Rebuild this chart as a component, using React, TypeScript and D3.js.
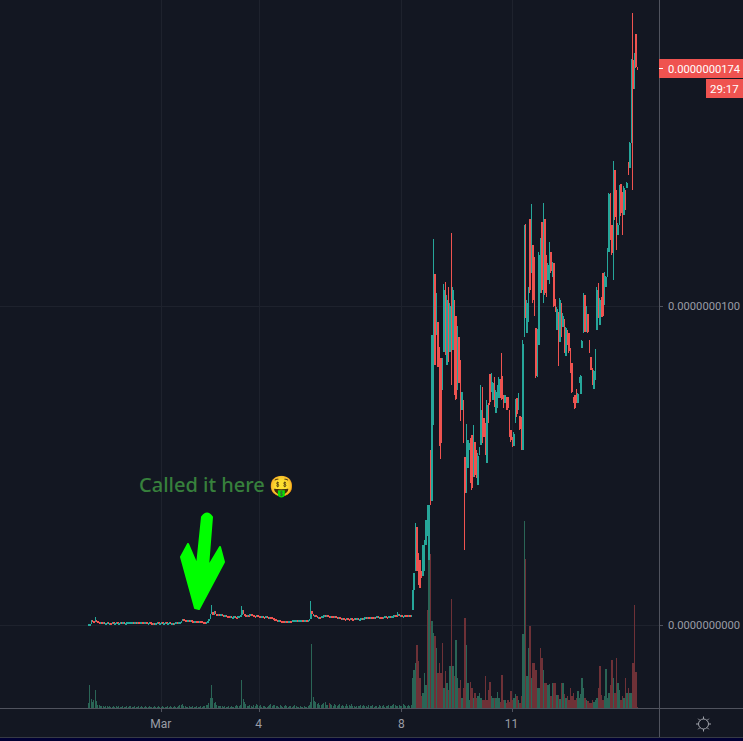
import React from 'react';
import * as d3 from 'd3';

// prices are in units of 0.0000000001
const quietCloses = [
  0.3, 0.4, 1.6, 1.2, 1.0, 1.7, 1.1, 0.9, 0.8, 0.8, 0.7, 0.8, 0.7, 0.7, 0.8, 0.7, 0.7, 0.6, 0.8, 0.7,
  0.7, 0.8, 0.7, 0.7, 0.8, 0.7, 0.9, 0.7, 0.7, 0.8, 0.8, 0.9, 1.0, 1.0, 0.9, 1.0, 0.8, 0.8, 0.7, 0.8,
  0.8, 0.7, 0.8, 0.8, 0.7, 0.7, 0.8, 0.7, 0.6, 0.7, 0.6, 0.7, 0.8, 0.7, 0.7, 0.8, 0.7, 0.7, 0.8, 0.7,
  0.7, 0.8, 0.7, 0.7, 0.6, 0.7, 0.8, 0.7, 0.9, 1.0, 1.4, 2.0, 1.7, 1.6, 1.5, 1.6, 1.4, 1.5, 1.4, 1.3,
  1.3, 1.4, 1.3, 1.2, 1.3, 1.2, 1.0, 0.9, 0.7, 0.8, 1.2, 1.8, 3.4, 4.0, 3.2, 4.3, 3.4, 3.2, 3.3, 3.1,
  3.3, 3.2, 3.0, 3.1, 2.9, 2.8, 2.6, 2.7, 2.5, 2.6, 2.7, 2.6, 2.5, 2.7, 2.8, 3.0, 4.6, 3.6, 3.2, 3.0,
  3.1, 3.0, 3.4, 3.3, 3.1, 2.9, 2.8, 3.0, 2.9, 2.8, 2.7, 2.9, 2.6, 2.5, 2.8, 2.5, 2.3, 2.6, 2.4, 2.1,
  2.0, 1.9, 1.7, 1.5, 1.6, 1.4, 1.3, 1.2, 1.1, 1.2, 1.0, 1.3, 1.4, 1.3, 1.5, 1.5, 1.6, 1.6, 1.5, 1.6,
  1.6, 1.7, 1.6, 1.6, 1.7, 1.6, 1.7, 2.0, 4.4, 3.6, 3.0, 3.2, 2.7, 2.5, 2.6, 2.4, 2.7, 2.9, 3.1, 2.8,
  3.0, 2.8, 2.6, 2.9, 2.7, 2.5, 2.7, 2.4, 2.2, 2.4, 2.1, 1.9, 2.2, 2.0, 1.8, 2.1, 2.0, 1.9, 2.1, 2.0,
  1.9, 2.2, 2.0, 2.1, 1.9, 2.0, 2.3, 2.1, 2.2, 2.4, 2.3, 2.5, 2.4, 2.6, 2.5, 2.4, 2.6, 2.5, 2.7, 2.5,
  2.6, 2.5, 2.4, 2.6, 2.7, 2.6, 2.5, 2.7, 2.6, 2.8, 2.9, 3.2, 3.0, 2.7, 3.5, 2.9, 3.2, 2.8, 2.9, 3.1,
  3.0, 2.9, 3.1, 3.0, 3.2,
];
// the few quiet bars that have a visible upper wick
const quietWickBars = [5, 93, 116, 168, 234];
const quietWickHighs = [2.6, 6.3, 5.8, 7.6, 4.0];

// rally part: one row per bar, open / high / low / close
const rallyBars: number[][] = [
  [4.7, 11, 4.7, 11], [11, 16.3, 11, 16.3], [17, 32, 17, 31], [30.7, 30.7, 17, 17], [22.6, 22.6, 12.5, 12.5],
  [20.4, 20.4, 11.6, 11.6], [17, 17, 14.7, 14.7], [15.4, 25, 15.4, 25], [17, 26.6, 17, 26.6], [25, 33, 25, 33],
  [28, 37.6, 28, 37.6], [20.4, 37.6, 20.4, 37.6], [54.9, 54.9, 37.6, 37.6], [39, 91, 39, 91], [62.7, 121, 62.7, 92],
  [110, 110, 81.5, 81.5], [91, 104, 91, 104], [95, 95, 81, 81], [87, 87, 56, 58], [83.7, 83.7, 52, 57], [73.7, 83.7, 73.7, 83.7],
  [85.6, 107, 85.6, 105], [107.5, 107.5, 84.6, 86], [81.5, 103.4, 81.5, 102], [106, 106, 82.4, 84], [85.6, 101, 85.6, 100],
  [109.4, 123, 75.2, 75.2], [86.2, 106, 86.2, 105], [102, 102, 72, 73], [97, 97, 70.5, 71], [73.7, 93.7, 73.7, 93],
  [90.3, 90.3, 75.9, 76], [83, 83, 64, 65], [67.4, 73, 67.4, 73], [70.5, 70.5, 57, 57], [52.7, 52.7, 23.5, 41.4],
  [41.4, 63, 41.4, 61], [49.2, 58, 49.2, 58], [54.9, 57, 54.9, 57], [58.6, 58.6, 44.5, 45], [59.6, 59.6, 42.3, 43],
  [46.4, 62.7, 46.4, 60], [57.4, 57.4, 46.4, 47], [54.9, 54.9, 46, 46], [43.9, 53.9, 43.9, 53], [53.3, 55.8, 53.3, 55.8],
  [56.4, 75.2, 56.4, 67.4], [74.6, 74.6, 57, 58], [64.9, 64.9, 58.9, 59], [63.3, 63.3, 53.3, 54], [50.8, 70.5, 50.8, 69],
  [69.6, 69.6, 63.3, 64], [78.7, 78.7, 69, 70], [73, 79, 73, 79], [70.5, 76.2, 70.5, 76], [77.7, 77.7, 68.3, 69],
  [66.5, 73.7, 66.5, 73], [68, 75.2, 68, 75], [71.2, 77.7, 71.2, 77], [77.1, 77.1, 71.2, 72], [78, 85.3, 70.5, 71],
  [72.1, 72.1, 68, 68], [69.6, 72.1, 69.6, 72], [71.5, 71.5, 67.4, 68], [71.5, 71.5, 67.4, 68], [67.4, 67.4, 58.9, 59],
  [61.1, 61.1, 57.4, 58], [58.9, 58.9, 55.8, 56], [56.1, 60.5, 56.1, 60], [63.3, 70.8, 63.3, 70], [71.2, 71.2, 65.2, 66],
  [67.4, 72.7, 67.4, 72], [65.5, 65.5, 61.1, 61.5], [65.2, 65.2, 54.9, 56], [54.9, 89.3, 54.9, 88],
  [90.3, 125.4, 90.3, 124], [125.7, 125.7, 96.2, 97], [91.5, 101.9, 91.5, 101], [95, 106, 95, 105], [127.3, 127.3, 104, 105],
  [110.3, 132, 110.3, 130], [119, 119, 101, 102], [115.4, 115.4, 97, 98], [93, 93, 77.4, 78], [77.7, 92.8, 77.7, 92],
  [87.8, 116.9, 87.8, 116], [104, 121.3, 104, 120], [126.3, 126.3, 104, 105], [101, 132.3, 101, 131], [127.3, 127.3, 103.4, 104],
  [116, 116, 102.8, 103], [108, 113.5, 108, 113], [107, 120, 107, 119], [116.9, 116.9, 110.3, 111], [109, 113.8, 109, 113],
  [113.5, 113.5, 99.7, 100], [102.2, 102.2, 98.1, 98.5], [92.5, 99.7, 92.5, 99], [98.1, 98.1, 81.2, 82], [88.7, 102.5, 88.7, 102],
  [100.9, 100.9, 90.3, 91], [93.4, 97.8, 93.4, 97], [95.9, 95.9, 85.3, 86], [84.3, 93.4, 84.3, 93],
  [92.5, 92.5, 87.8, 88], [91.5, 91.5, 85.3, 86], [86.8, 86.8, 79, 79.5],
  [82.1, 82.1, 72.7, 73], [71.5, 71.5, 69.6, 70], [72.1, 72.1, 67.7, 68], [74, 74, 69.6, 70], [69.6, 72.7, 69.6, 72.5],
  [75.9, 77.7, 75.9, 77.5], [72.4, 78.4, 72.4, 78], [86.8, 89.3, 86.8, 89], [91.5, 104, 91.5, 103],
  [103.4, 103.4, 91.8, 92], [91.8, 100, 91.8, 99], [97.5, 97.5, 91.5, 92], [89.3, 89.3, 85.3, 85.5],
  [84, 84, 79.9, 80], [80.6, 80.6, 75.2, 75.5], [74, 79.9, 74, 79.5], [76.8, 86.5, 76.8, 86],
  [92.5, 106, 92.5, 105], [107.2, 107.2, 96.2, 97], [94, 102.5, 94, 102],
  [102.8, 102.8, 96.5, 97], [110.3, 110.3, 96.5, 97], [100.3, 110.7, 100.3, 110],
  [106, 109.4, 106, 109], [109, 118.2, 109, 118], [116.9, 135.4, 116.9, 135], [135.4, 135.4, 120.7, 121], [125.4, 125.4, 116, 116.5],
  [108, 145.5, 108, 136], [142.6, 142.6, 127, 128], [136.4, 136.4, 117.6, 118], [122.3, 126, 122.3, 125.5], [125.4, 138, 125.4, 137],
  [138.2, 138.2, 128.2, 129], [135.7, 135.7, 122.3, 123], [128.5, 137.6, 128.5, 137], [136.4, 136.4, 130, 130.5], [137, 138.9, 137, 138.5],
  [145.1, 145.1, 141, 141.5], [143.3, 151.4, 143.3, 151], [151, 177.4, 151, 177], [177, 192, 136.4, 168], [168, 179.3, 168, 179],
  [185.3, 185.3, 174.6, 175], [174.6, 174.8, 174, 174],
];

const quietVolumes = [
  5, 23, 9, 6, 8, 18, 7, 3, 3, 2, 2, 2, 1, 2, 2, 1, 2, 1, 1, 2, 1, 2, 1, 2, 1, 1, 2, 1, 1, 2, 1, 2, 2, 1, 1, 2,
  1, 1, 2, 1, 2, 1, 1, 2, 1, 1, 2, 1, 1, 1, 2, 1, 1, 2, 1, 1, 2, 1, 1, 1, 2, 1, 2, 1, 1, 2, 1, 1, 2, 3, 3, 4,
  2, 2, 1, 1, 2, 1, 1, 2, 1, 1, 2, 1, 1, 2, 1, 2, 2, 3, 3, 5, 10, 23, 10, 5, 6, 3, 2, 2, 2, 2, 1, 2, 1, 1, 2, 1,
  2, 1, 1, 2, 3, 2, 2, 3, 28, 9, 6, 4, 2, 2, 3, 2, 1, 3, 2, 4, 3, 2, 3, 1, 2, 2, 1, 1, 2, 3, 4, 2, 3, 3, 2, 2,
  1, 3, 2, 1, 2, 3, 2, 1, 2, 2, 1, 2, 3, 2, 1, 1, 2, 1, 1, 2, 1, 1, 2, 3, 6, 64, 11, 7, 6, 4, 5, 3, 3, 4, 5, 6,
  3, 3, 5, 4, 3, 2, 4, 3, 2, 3, 4, 2, 3, 2, 2, 4, 2, 3, 2, 4, 2, 2, 1, 2, 2, 2, 3, 2, 3, 2, 2, 1, 3, 2, 2, 3,
  1, 2, 2, 1, 3, 2, 2, 3, 1, 2, 2, 3, 2, 2, 3, 4, 3, 2, 2, 3, 2, 2, 4, 3, 2, 2, 3, 2, 3,
];
const quietVolumeRedBars = [182];
const rallyVolumes = [
  30, 38, 45, 63, 47, 30, 12, 15, 35, 23, 97, 185, 153, 87, 75, 72, 60, 35, 45, 35, 65, 20, 37, 25, 18, 42, 108, 42, 32, 68,
  30, 20, 28, 10, 20, 90, 63, 25, 8, 26, 20, 10, 15, 10, 12, 15, 10, 8, 8, 32, 8, 18, 26, 12, 10, 10, 10, 16, 10, 6,
  33, 8, 8, 5, 8, 6, 17, 8, 10, 14, 12, 8, 5, 12, 74, 186, 148, 32, 60, 82, 30, 45, 45, 38, 20, 20, 60, 50, 38, 25,
  25, 23, 24, 12, 25, 25, 25, 13, 13, 9, 25, 25, 14, 10, 12, 8, 20, 12, 15, 8, 10, 17, 10, 14, 30, 20, 10, 8, 7, 5,
  5, 8, 6, 8, 10, 20, 42, 13, 8, 12, 39, 10, 15, 23, 48, 30, 15, 50, 25, 18, 8, 12, 10, 30, 15, 20, 15, 15, 45, 102,
  36, 1,
];
// rally bars whose volume colour differs from what the candle row gives
const rallyVolumeRedBars = [10, 15, 20, 26, 35, 40, 50, 66, 76, 79, 86, 126, 149];
const rallyVolumeTealBars = [11, 29, 36, 75];

const timeTicks = [
  { bar: 55, label: 'Mar' },
  { bar: 129, label: '4' },
  { bar: 237, label: '8' },
  { bar: 312, label: '11' },
];
const priceTicks = [
  { value: 0, label: '0.0000000000' },
  { value: 100, label: '0.0000000100' },
];
const lastPriceLabel = '0.0000000174';
const countdownLabel = '29:17';
const noteLabel = 'Called it here';

const UP = '#26a69a';
const DOWN = '#ef5350';
const UP_VOL = '#2a6556';
const DOWN_VOL = '#6e3137';
const BG = '#131722';
const GRID = '#1e222d';
const AXIS = '#50535e';
const TEXT = '#9a9da6';

const width = 743;
const height = 741;
const paneRight = 659;
const paneBottom = 708;

const candles = [
  ...quietCloses.map((c, i) => {
    const o = i === 0 ? c : quietCloses[i - 1];
    const w = quietWickBars.indexOf(i);
    return {
      o,
      c,
      h: w >= 0 ? quietWickHighs[w] : Math.max(o, c),
      l: Math.min(o, c),
    };
  }),
  ...rallyBars.map(([o, h, l, c]) => ({ o, h, l, c })),
];
const nQuiet = quietCloses.length;
const allVolumes = [...quietVolumes, ...rallyVolumes];

const App: React.FC = () => {
  const x = d3.scaleLinear().domain([0, nQuiet, candles.length - 1]).range([88, 412, 636.5]);
  const y = d3.scaleLinear().domain([0, 100]).range([625, 306]);
  const vol = d3.scaleLinear().domain([0, d3.max(allVolumes) as number]).range([paneBottom, 521]);

  const sunRays = d3.range(8).map((i) => (i * Math.PI) / 4);

  return (
    <svg
      width={width}
      height={height}
      style={{ position: 'fixed', left: 0, top: 0, display: 'block', background: BG }}
      fontFamily="Roboto, 'Liberation Sans', sans-serif"
    >
      <rect width={width} height={height} fill={BG} />

      {/* grid */}
      {timeTicks.map((t) => (
        <line key={t.label} x1={Math.round(x(t.bar)) + 0.5} x2={Math.round(x(t.bar)) + 0.5} y1={0} y2={paneBottom} stroke={GRID} />
      ))}
      {priceTicks.map((t) => (
        <line key={t.label} x1={0} x2={paneRight} y1={Math.round(y(t.value)) + 0.5} y2={Math.round(y(t.value)) + 0.5} stroke={GRID} />
      ))}

      {/* volume */}
      <g shapeRendering="crispEdges">
        {quietVolumes.slice(0, nQuiet).map((v, i) => (
          <rect
            key={i}
            x={Math.round(x(i))}
            width={1}
            y={vol(v)}
            height={paneBottom - vol(v)}
            fill={quietVolumeRedBars.includes(i) ? DOWN_VOL : UP_VOL}
          />
        ))}
        {rallyVolumes.slice(0, rallyBars.length).map((v, i) => {
          const bar = rallyBars[i];
          const up = rallyVolumeRedBars.includes(i)
            ? false
            : rallyVolumeTealBars.includes(i)
              ? true
              : bar[3] >= bar[0];
          return (
            <rect
              key={i}
              x={x(nQuiet + i)}
              width={1.5}
              y={vol(v)}
              height={paneBottom - vol(v)}
              fill={up ? UP_VOL : DOWN_VOL}
            />
          );
        })}
      </g>

      {/* candles */}
      <g shapeRendering="crispEdges">
        {candles.map((c, i) => {
          const color = c.c >= c.o ? UP : DOWN;
          const top = y(Math.max(c.o, c.c));
          const bodyH = Math.max(2, Math.abs(y(c.o) - y(c.c)));
          return (
            <g key={i} fill={color}>
              <rect x={Math.round(x(i))} width={1} y={y(c.h)} height={Math.max(1, y(c.l) - y(c.h))} />
              <rect x={x(i)} width={1.5} y={top} height={bodyH} />
            </g>
          );
        })}
      </g>

      {/* annotation */}
      <text x={139} y={492} fontSize={20} fontWeight={500} fill="#37803c" fontFamily="'Noto Sans', sans-serif">
        {noteLabel}
      </text>
      <text x={269} y={493} fontSize={20} fontFamily="'Noto Color Emoji', 'Noto Sans', sans-serif">
        🤑
      </text>
      <path
        d="M202 517 L197 565 L188 544 L181 557 L195 608 L199 609 L224 562 L220 547 L208 567 L212 517 Q207 510 202 517 Z"
        fill="#00ff00"
        stroke="#00ff00"
        strokeWidth={2}
        strokeLinejoin="round"
      />

      {/* axes */}
      <rect x={paneRight} y={0} width={1} height={737} fill={AXIS} />
      <rect x={0} y={paneBottom} width={width} height={1} fill={AXIS} />
      {timeTicks.map((t) => (
        <g key={t.label}>
          <rect x={Math.round(x(t.bar))} y={paneBottom} width={1} height={4} fill={AXIS} />
          <text x={x(t.bar)} y={728} textAnchor="middle" fontSize={12} fill={TEXT}>
            {t.label}
          </text>
        </g>
      ))}
      {priceTicks.map((t) => (
        <g key={t.label}>
          <rect x={paneRight} y={Math.round(y(t.value))} width={4} height={1} fill={AXIS} />
          <text x={668} y={y(t.value) + 4} fontSize={11.2} fill={TEXT}>
            {t.label}
          </text>
        </g>
      ))}

      {/* last price tag */}
      <rect x={paneRight} y={59} width={84} height={19} fill={DOWN} />
      <rect x={paneRight} y={68} width={4} height={1} fill="#fff" />
      <text x={668} y={72.5} fontSize={11.2} fill="#fff">
        {lastPriceLabel}
      </text>
      <rect x={706} y={79} width={37} height={19} fill={DOWN} />
      <text x={710} y={92.5} fontSize={11.5} fill="#fff">
        {countdownLabel}
      </text>

      {/* settings icon */}
      <g transform="translate(703.5,724)" stroke="#a0a3ab" fill="none">
        <circle r={5} />
        {sunRays.map((a, i) => (
          <line key={i} x1={5 * Math.cos(a)} y1={5 * Math.sin(a)} x2={7.5 * Math.cos(a)} y2={7.5 * Math.sin(a)} />
        ))}
      </g>

      {/* bottom edge */}
      <rect x={0} y={737} width={width} height={1} fill="#363a45" />
      <rect x={0} y={738} width={width} height={3} fill="#000033" />
    </svg>
  );
};

export default App;
